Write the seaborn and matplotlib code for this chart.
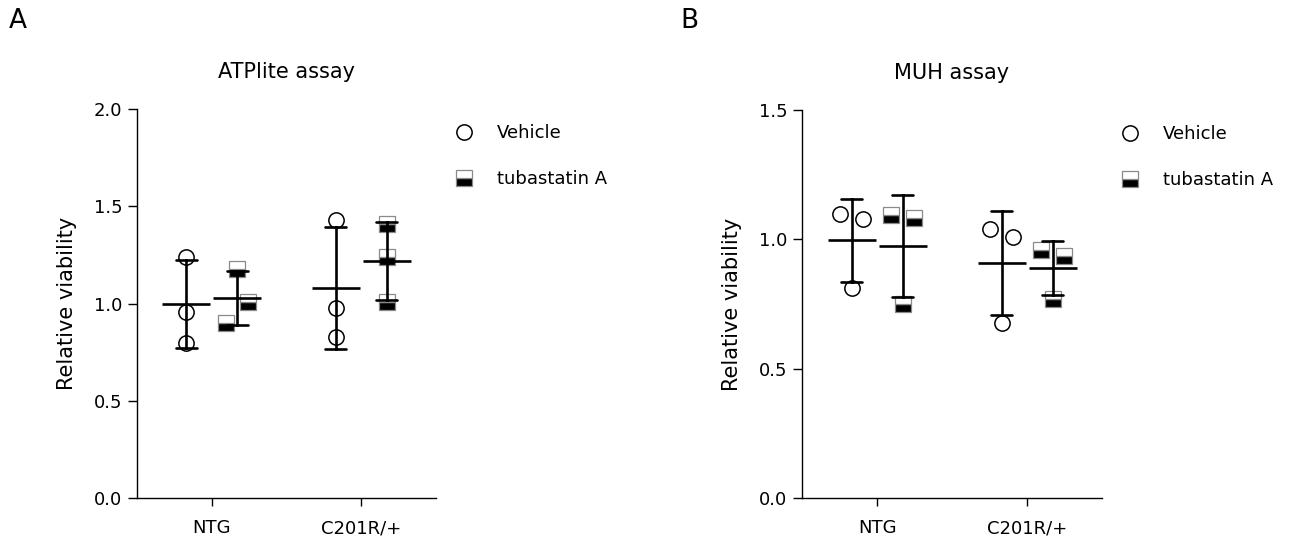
import matplotlib
matplotlib.use("Agg")
import matplotlib.pyplot as plt
from matplotlib.lines import Line2D
import numpy as np
import pandas as pd
import seaborn as sns

genotypes = ["NTG", "C201R/+"]
treatments = ["Vehicle", "tubastatin A"]

# relative viability, three replicates per group
atp_ntg_vehicle = [1.240, 0.957, 0.798]
atp_ntg_tubastatin = [1.178, 0.902, 1.010]
atp_c201r_vehicle = [1.430, 0.979, 0.830]
atp_c201r_tubastatin = [1.410, 1.240, 1.010]

muh_ntg_vehicle = [1.098, 1.080, 0.813]
muh_ntg_tubastatin = [1.094, 1.081, 0.749]
muh_c201r_vehicle = [1.042, 1.010, 0.678]
muh_c201r_tubastatin = [0.961, 0.937, 0.771]

atp_ticks = [0.0, 0.5, 1.0, 1.5, 2.0]
muh_ticks = [0.0, 0.5, 1.0, 1.5]

sns.set_style("ticks")
plt.rcParams["font.family"] = ["DejaVu Sans"]
plt.rcParams.update({"text.color": "black", "axes.labelcolor": "black",
                     "xtick.color": "black", "ytick.color": "black"})

DODGE = 0.34      # distance between Vehicle and tubastatin columns
STEP = 0.147      # side-by-side spacing of replicates that would overlap

marker_styles = {
    "Vehicle": dict(marker="o", markersize=11, markerfacecolor="white",
                    markeredgecolor="black", markeredgewidth=1.1),
    "tubastatin A": dict(marker="s", markersize=12, fillstyle="bottom",
                         markerfacecolor="black", markerfacecoloralt="white",
                         markeredgecolor="#8a8a8a", markeredgewidth=0.9),
}


def to_long(ntg_veh, ntg_tub, c201r_veh, c201r_tub):
    groups = {
        ("NTG", "Vehicle"): ntg_veh,
        ("NTG", "tubastatin A"): ntg_tub,
        ("C201R/+", "Vehicle"): c201r_veh,
        ("C201R/+", "tubastatin A"): c201r_tub,
    }
    rows = []
    for (g, t), vals in groups.items():
        for v in vals:
            rows.append({"genotype": g, "treatment": t, "viability": v})
    return pd.DataFrame(rows)


def spread(values, thr, step):
    # Prism-like scatter: replicates closer than thr are put side by side
    values = np.asarray(values)
    order = np.argsort(values)
    clusters = [[order[0]]]
    for a, b in zip(order[:-1], order[1:]):
        if values[b] - values[a] < thr:
            clusters[-1].append(b)
        else:
            clusters.append([b])
    off = np.zeros(len(values))
    for c in clusters:
        c = sorted(c)
        for k, idx in enumerate(c):
            off[idx] = (k - (len(c) - 1) / 2) * step
    return off


def draw_panel(ax, df, title, ticks):
    sns.pointplot(data=df, x="genotype", y="viability", hue="treatment",
                  order=genotypes, hue_order=treatments,
                  palette=["black", "black"], errorbar="sd", dodge=DODGE,
                  capsize=0.14, markers="_", linestyle="none",
                  markersize=34, markeredgewidth=1.9,
                  err_kws={"linewidth": 1.9}, legend=False, ax=ax)

    thr = 0.065 * (ticks[-1] - ticks[0])
    for j, treat in enumerate(treatments):
        for i, gen in enumerate(genotypes):
            vals = df[(df.genotype == gen) & (df.treatment == treat)]["viability"].to_numpy()
            x = i + (j - 0.5) * DODGE + spread(vals, thr, STEP)
            ax.plot(x, vals, linestyle="none", zorder=1.5, **marker_styles[treat])

    ax.set_xlim(-0.5, 1.5)
    ax.set_ylim(ticks[0], ticks[-1])
    ax.set_yticks(ticks)
    ax.set_yticklabels([f"{t:.1f}" for t in ticks])
    ax.set_xlabel("")
    ax.set_ylabel("Relative viability", fontsize=15, labelpad=12)
    ax.set_title(title, fontsize=15, pad=22)
    ax.tick_params(axis="y", labelsize=13, length=6.5, width=1, pad=4)
    ax.tick_params(axis="x", labelsize=13, length=6, width=1, pad=9)
    sns.despine(ax=ax)
    for s in ["left", "bottom"]:
        ax.spines[s].set_linewidth(1)
        ax.spines[s].set_color("black")

    handles = [Line2D([], [], linestyle="none", **marker_styles[t]) for t in treatments]
    ax.legend(handles, treatments, loc="upper left", bbox_to_anchor=(1.04, 0.98),
              frameon=False, handlelength=1.0, handletextpad=1.3,
              labelspacing=1.55, fontsize=13, borderaxespad=0)


fig = plt.figure(figsize=(13.06, 5.42), dpi=100)
ax_a = fig.add_axes([0.1049, 0.0806, 0.2289, 0.7183])
ax_b = fig.add_axes([0.6141, 0.0806, 0.2297, 0.7164])

draw_panel(ax_a, to_long(atp_ntg_vehicle, atp_ntg_tubastatin,
                         atp_c201r_vehicle, atp_c201r_tubastatin),
           "ATPlite assay", atp_ticks)
draw_panel(ax_b, to_long(muh_ntg_vehicle, muh_ntg_tubastatin,
                         muh_c201r_vehicle, muh_c201r_tubastatin),
           "MUH assay", muh_ticks)

fig.text(0.007, 0.985, "A", fontsize=19, va="top")
fig.text(0.521, 0.985, "B", fontsize=19, va="top")

fig.savefig("out.png", dpi=100)
